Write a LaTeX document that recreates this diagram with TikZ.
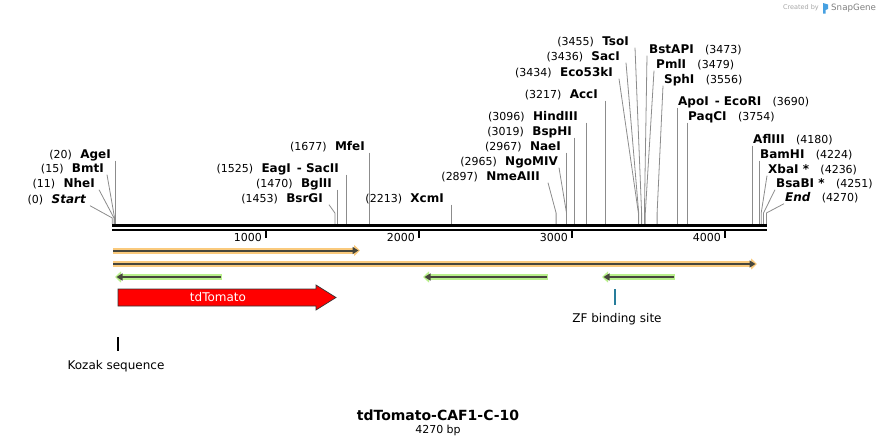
\documentclass[tikz,border=0pt]{standalone}
\usepackage{fontspec}
\setmainfont{DejaVu Sans}
\usepackage{tikz}
\usetikzlibrary{positioning,arrows.meta}
\definecolor{featorange}{RGB}{250,202,125}
\definecolor{featgreen}{RGB}{185,240,140}
\definecolor{featline}{RGB}{70,70,60}
\definecolor{zfteal}{RGB}{40,125,155}
\definecolor{snapblue}{RGB}{70,160,225}

\begin{document}
\begin{tikzpicture}[x=1pt, y=-1pt,
enzname/.style={font=\fontsize{12}{14}\selectfont\bfseries, inner sep=0pt, text height=9pt, text depth=2pt},
enzpos/.style={font=\fontsize{11}{13}\selectfont, inner sep=0pt, text height=9pt, text depth=2pt},
cutline/.style={draw=black!45, line width=0.8pt},
halo/.style={line width=6pt},
featarrow/.style={featline, line width=2pt},
plain/.style={font=\fontsize{12}{14}\selectfont, inner sep=0pt},
ticklabel/.style={font=\fontsize{11}{13}\selectfont, inner sep=0pt, anchor=east},
node distance=8pt
]
\useasboundingbox (0,0) rectangle (880,447);

%Cut sites
\coordinate (kinkL) at (0,218);
\coordinate (kink) at (0,213);
\coordinate (cStart) at (112.3,224);
\coordinate (cNheI) at (114.0,224);
\coordinate (cBmtI) at (114.6,224);
\coordinate (cAgeI) at (115.4,224);
\coordinate (cBsrGI) at (334.9,224);
\coordinate (cBglII) at (337.5,224);
\coordinate (cEagI) at (345.9,224);
\coordinate (cMfeI) at (369.2,224);
\coordinate (cXcmI) at (451.3,224);
\coordinate (cNmeAIII) at (556.1,224);
\coordinate (cNgoMIV) at (566.5,224);
\coordinate (cNaeI) at (566.8,224);
\coordinate (cBspHI) at (574.8,224);
\coordinate (cHindIII) at (586.6,224);
\coordinate (cAccI) at (605.1,224);
\coordinate (cEcoFiveThree) at (638.4,224);
\coordinate (cSacI) at (638.7,224);
\coordinate (cTsoI) at (641.6,224);
\coordinate (cBstAPI) at (644.4,224);
\coordinate (cPmlI) at (645.3,224);
\coordinate (cSphI) at (657.1,224);
\coordinate (cApoI) at (677.6,224);
\coordinate (cPaqCI) at (687.4,224);
\coordinate (cAflIII) at (752.7,224);
\coordinate (cBamHI) at (759.4,224);
\coordinate (cXbaI) at (761.2,224);
\coordinate (cBsaBI) at (763.5,224);
\coordinate (cEnd) at (766.4,224);

%Nodes
\node[enzname, anchor=east] (AgeI) at (111,155) {AgeI};
\node[enzpos] (pAgeI) [left=of AgeI] {(20)};
\node[enzname, anchor=east] (BmtI) at (104,169) {BmtI};
\node[enzpos] (pBmtI) [left=of BmtI] {(15)};
\node[enzname, anchor=east] (NheI) at (95,184) {NheI};
\node[enzpos] (pNheI) [left=of NheI] {(11)};
\node[enzname, anchor=east, font=\fontsize{12}{14}\selectfont\bfseries\itshape] (Start) at (86,200) {Start};
\node[enzpos] (pStart) [left=of Start] {(0)};

\node[enzname, anchor=east] (MfeI) at (365,147) {MfeI};
\node[enzpos] (pMfeI) [left=of MfeI] {(1677)};
\node[enzname, anchor=east] (EagI) at (339,169) {EagI\enspace- SacII};
\node[enzpos] (pEagI) [left=of EagI] {(1525)};
\node[enzname, anchor=east] (BglII) at (332,184) {BglII};
\node[enzpos] (pBglII) [left=of BglII] {(1470)};
\node[enzname, anchor=east] (BsrGI) at (323,199) {BsrGI};
\node[enzpos] (pBsrGI) [left=of BsrGI] {(1453)};
\node[enzname, anchor=east] (XcmI) at (444,199) {XcmI};
\node[enzpos] (pXcmI) [left=of XcmI] {(2213)};

\node[enzname, anchor=east] (NmeAIII) at (540,177) {NmeAIII};
\node[enzpos] (pNmeAIII) [left=of NmeAIII] {(2897)};
\node[enzname, anchor=east] (NgoMIV) at (558,162) {NgoMIV};
\node[enzpos] (pNgoMIV) [left=of NgoMIV] {(2965)};
\node[enzname, anchor=east] (NaeI) at (561,147) {NaeI};
\node[enzpos] (pNaeI) [left=of NaeI] {(2967)};
\node[enzname, anchor=east] (BspHI) at (572,132) {BspHI};
\node[enzpos] (pBspHI) [left=of BspHI] {(3019)};
\node[enzname, anchor=east] (HindIII) at (578,117) {HindIII};
\node[enzpos] (pHindIII) [left=of HindIII] {(3096)};
\node[enzname, anchor=east] (AccI) at (598,95) {AccI};
\node[enzpos] (pAccI) [left=of AccI] {(3217)};
\node[enzname, anchor=east] (EcoFiveThree) at (613,73) {Eco53kI};
\node[enzpos] (pEcoFiveThree) [left=of EcoFiveThree] {(3434)};
\node[enzname, anchor=east] (SacI) at (620,57) {SacI};
\node[enzpos] (pSacI) [left=of SacI] {(3436)};
\node[enzname, anchor=east] (TsoI) at (629,42) {TsoI};
\node[enzpos] (pTsoI) [left=of TsoI] {(3455)};

\node[enzname, anchor=west] (BstAPI) at (649,50) {BstAPI};
\node[enzpos] (pBstAPI) [right=11pt of BstAPI] {(3473)};
\node[enzname, anchor=west] (PmlI) at (656,65) {PmlI};
\node[enzpos] (pPmlI) [right=11pt of PmlI] {(3479)};
\node[enzname, anchor=west] (SphI) at (664,80) {SphI};
\node[enzpos] (pSphI) [right=11pt of SphI] {(3556)};
\node[enzname, anchor=west] (ApoI) at (678,102) {ApoI\enspace- EcoRI};
\node[enzpos] (pApoI) [right=11pt of ApoI] {(3690)};
\node[enzname, anchor=west] (PaqCI) at (688,117) {PaqCI};
\node[enzpos] (pPaqCI) [right=11pt of PaqCI] {(3754)};
\node[enzname, anchor=west] (AflIII) at (753,140) {AflIII};
\node[enzpos] (pAflIII) [right=11pt of AflIII] {(4180)};
\node[enzname, anchor=west] (BamHI) at (760,155) {BamHI};
\node[enzpos] (pBamHI) [right=11pt of BamHI] {(4224)};
\node[enzname, anchor=west] (XbaI) at (768,170) {XbaI *};
\node[enzpos] (pXbaI) [right=11pt of XbaI] {(4236)};
\node[enzname, anchor=west] (BsaBI) at (776,184) {BsaBI *};
\node[enzpos] (pBsaBI) [right=11pt of BsaBI] {(4251)};
\node[enzname, anchor=west, font=\fontsize{12}{14}\selectfont\bfseries\itshape] (End) at (785,198) {End};
\node[enzpos] (pEnd) [right=11pt of End] {(4270)};

%Lines
\draw[cutline] ([xshift=4pt]Start.south east) -- (cStart |- kinkL) -- (cStart);
\draw[cutline] ([xshift=4pt]NheI.south east) -- (cNheI |- kinkL) -- (cNheI);
\draw[cutline] ([xshift=3pt]BmtI.south east) -- (cBmtI |- kinkL) -- (cBmtI);
\draw[cutline] (cAgeI |- AgeI.south) -- (cAgeI);
\draw[cutline] ([xshift=6pt]BsrGI.south east) -- (cBsrGI |- kink) -- (cBsrGI);
\draw[cutline] (cBglII |- BglII.south) -- (cBglII);
\draw[cutline] (cEagI |- EagI.south) -- (cEagI);
\draw[cutline] (cMfeI |- MfeI.south) -- (cMfeI);
\draw[cutline] (cXcmI |- XcmI.south) -- (cXcmI);
\draw[cutline] ([xshift=8pt]NmeAIII.south east) -- (cNmeAIII |- kink) -- (cNmeAIII);
\draw[cutline] ([xshift=1pt]NgoMIV.south east) -- (cNgoMIV |- kink) -- (cNgoMIV);
\draw[cutline] (cNaeI |- NaeI.south) -- (cNaeI);
\draw[cutline] (cBspHI |- BspHI.south) -- (cBspHI);
\draw[cutline] (cHindIII |- HindIII.south) -- (cHindIII);
\draw[cutline] (cAccI |- AccI.south) -- (cAccI);
\draw[cutline] ([xshift=6pt]EcoFiveThree.south east) -- (cEcoFiveThree |- kink) -- (cEcoFiveThree);
\draw[cutline] ([xshift=6pt]SacI.south east) -- (cSacI |- kink) -- (cSacI);
\draw[cutline] ([xshift=6pt]TsoI.south east) -- (cTsoI |- kink) -- (cTsoI);
\draw[cutline] ([xshift=-2pt]BstAPI.south west) -- (cBstAPI |- kink) -- (cBstAPI);
\draw[cutline] ([xshift=-2pt]PmlI.south west) -- (cPmlI |- kink) -- (cPmlI);
\draw[cutline] ([xshift=-1pt]SphI.south west) -- (cSphI |- kink) -- (cSphI);
\draw[cutline] (cApoI |- ApoI.south) -- (cApoI);
\draw[cutline] (cPaqCI |- PaqCI.south) -- (cPaqCI);
\draw[cutline] (cAflIII |- AflIII.south) -- (cAflIII);
\draw[cutline] (cBamHI |- BamHI.south) -- (cBamHI);
\draw[cutline] ([xshift=-1pt]XbaI.south west) -- (cXbaI |- kink) -- (cXbaI);
\draw[cutline] ([xshift=-1pt]BsaBI.south west) -- (cBsaBI |- kink) -- (cBsaBI);
\draw[cutline] ([xshift=-1pt]End.south west) -- (cEnd |- kink) -- (cEnd);

%Sequence
\coordinate (seqL) at (112,225.3);
\coordinate (seqR) at (767,225.3);
\coordinate (seqLb) at (112,229.7);
\coordinate (seqRb) at (767,229.7);
\draw[line width=3.3pt] (seqL) -- (seqR);
\draw[line width=2pt] (seqLb) -- (seqRb);
\coordinate (t1000) at (265.5,229);
\coordinate (t2000) at (418.7,229);
\coordinate (t3000) at (571.9,229);
\coordinate (t4000) at (725.1,229);
\draw[line width=2pt] (t1000) -- ++(0,9);
\draw[line width=2pt] (t2000) -- ++(0,9);
\draw[line width=2pt] (t3000) -- ++(0,9);
\draw[line width=2pt] (t4000) -- ++(0,9);
\node[ticklabel] (l1000) at (262,237) {1000};
\node[ticklabel] (l2000) at (415,237) {2000};
\node[ticklabel] (l3000) at (568,237) {3000};
\node[ticklabel] (l4000) at (721,237) {4000};

%Features
\coordinate (orAs) at (113,250.5);
\coordinate (orAe) at (360,250.5);
\coordinate (orBs) at (113,264);
\coordinate (orBe) at (757,264);
\draw[featorange, halo, -{Triangle[length=6pt,width=11pt]}] (orAs) -- (orAe);
\draw[featarrow, -{Triangle[length=6pt,width=7pt]}] (orAs) -- ([xshift=-1.5pt]orAe);
\draw[featorange, halo, -{Triangle[length=6pt,width=11pt]}] (orBs) -- (orBe);
\draw[featarrow, -{Triangle[length=6pt,width=7pt]}] (orBs) -- ([xshift=-1.5pt]orBe);

\coordinate (grAs) at (222,277);
\coordinate (grAe) at (115,277);
\coordinate (grBs) at (548,277);
\coordinate (grBe) at (423,277);
\coordinate (grCs) at (675,277);
\coordinate (grCe) at (602,277);
\draw[featgreen, halo, -{Triangle[length=6pt,width=11pt]}] (grAs) -- (grAe);
\draw[featarrow, -{Triangle[length=6pt,width=7pt]}] ([xshift=-1.5pt]grAs) -- ([xshift=1.5pt]grAe);
\draw[featgreen, halo, -{Triangle[length=6pt,width=11pt]}] (grBs) -- (grBe);
\draw[featarrow, -{Triangle[length=6pt,width=7pt]}] ([xshift=-1.5pt]grBs) -- ([xshift=1.5pt]grBe);
\draw[featgreen, halo, -{Triangle[length=6pt,width=11pt]}] (grCs) -- (grCe);
\draw[featarrow, -{Triangle[length=6pt,width=7pt]}] ([xshift=-1.5pt]grCs) -- ([xshift=1.5pt]grCe);

\draw[fill=red, draw=black!80, line width=0.7pt] (118,289) -- (316,289) -- (316,285) -- (336,297.5) -- (316,310) -- (316,306) -- (118,306) -- cycle;
\node[plain, text=white] (tdTomato) at (218,297.5) {tdTomato};

\coordinate (zfT) at (615,289);
\draw[zfteal, line width=2pt] (zfT) -- ++(0,16);
\node[plain] (zf) at (617,319) {ZF binding site};

\coordinate (kozakT) at (118,337);
\draw[line width=1.5pt] (kozakT) -- ++(0,14);
\node[plain] (kozak) at (116,366) {Kozak sequence};

%Title
\node[font=\fontsize{14}{16}\selectfont\bfseries, inner sep=0pt] (title) at (438,415) {tdTomato-CAF1-C-10};
\node[ticklabel, anchor=north] (size) [below=4pt of title] {4270 bp};

%Logo
\node[font=\fontsize{6.5}{8}\selectfont, text=black!35, inner sep=0pt, anchor=east] (created) at (819,8) {Created by};
\fill[snapblue] (823,3) -- (828,4.5) -- (828,9) -- (825.5,10) -- (825.5,13.5) -- (823,13.5) -- cycle;
\node[font=\fontsize{8.7}{10}\selectfont, text=black!50, inner sep=0pt, anchor=west] (snapgene) at (831,8) {SnapGene};
\end{tikzpicture}
\end{document}
